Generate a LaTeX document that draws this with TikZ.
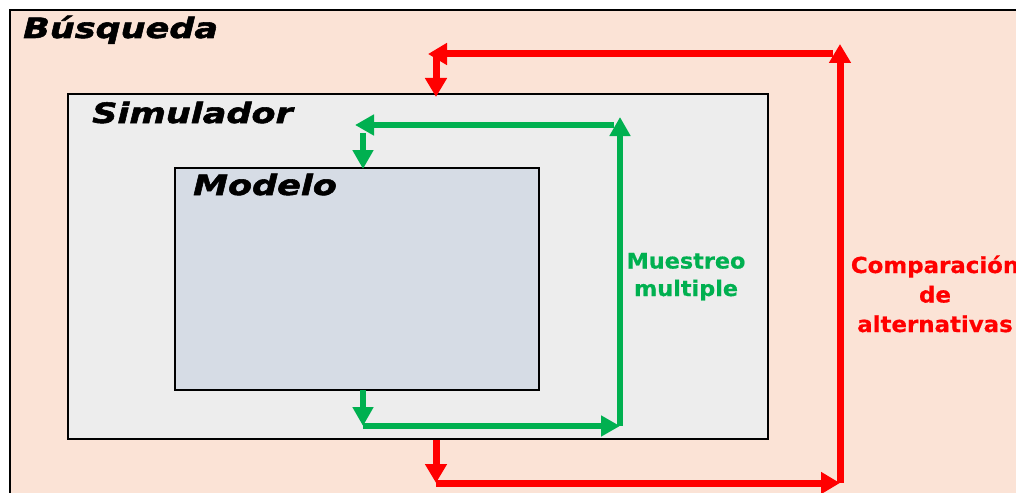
\documentclass[tikz,border=0pt]{standalone}
\usepackage{fontspec}
\setmainfont{DejaVu Sans}
\newfontfamily\titlefont{DejaVu Sans}[FakeStretch=1.25,FakeBold=2]
\newfontfamily\labelfont{DejaVu Sans}[FakeStretch=1.04,FakeBold=0.6]
\usetikzlibrary{arrows.meta}
\definecolor{peach}{HTML}{FBE3D6}
\definecolor{simfill}{HTML}{EDEDED}
\definecolor{modfill}{HTML}{D6DCE5}
\definecolor{ared}{HTML}{FF0000}
\definecolor{agreen}{HTML}{00B050}
\begin{document}
\begin{tikzpicture}[x=1pt,y=-1pt,
  box/.style={draw=black,line width=2pt},
  title/.style={anchor=base west,inner sep=0pt,font=\titlefont\fontsize{28}{30}\selectfont\bfseries\itshape},
  garrow/.style={draw=agreen,line width=6pt,-{Triangle[length=19pt,width=20pt]}},
  rarrow/.style={draw=ared,line width=7pt,-{Triangle[length=19pt,width=21pt]}},
  glabel/.style={anchor=base,align=center,inner sep=0pt,text=agreen,font=\labelfont\fontsize{21.5}{27.5}\selectfont\bfseries},
  rlabel/.style={anchor=base,align=center,inner sep=0pt,text=ared,font=\labelfont\fontsize{22}{29.5}\selectfont\bfseries}]
\useasboundingbox (0,0) rectangle (1016,492);
\fill[white] (0,0) rectangle (1016,492);
\begin{scope}
\clip (0,0) rectangle (1016,492);
% nested boxes
\draw[box,fill=peach] (10,10) rectangle (1040,510);
\end{scope}
\draw[box,fill=simfill] (68,94) rectangle (768,439);
\draw[box,fill=modfill] (175,168) rectangle (539,390);
\node[title] (busq) at (23,38) {Búsqueda};
\node[title] (sim) at (92,123) {Simulador};
\node[title] (mod) at (193,195) {Modelo};
% green sampling loop
\coordinate (g1) at (363,390);
\coordinate (g2) at (363,426);
\coordinate (g3) at (620,426);
\coordinate (g4) at (620,117);
\coordinate (g5) at (614,125);
\coordinate (g6) at (355,125);
\coordinate (g7) at (363,133);
\coordinate (g8) at (363,169);
\draw[garrow] (g1) -- (g2);
\draw[garrow] (g2) -- (g3);
\draw[garrow] (g3) -- (g4);
\draw[garrow] (g5) -- (g6);
\draw[garrow] (g7) -- (g8);
% red comparison loop
\coordinate (r1) at (436,440);
\coordinate (r2) at (436,483);
\coordinate (r3) at (840,483);
\coordinate (r4) at (840,44);
\coordinate (r5) at (833,54);
\coordinate (r6) at (428,54);
\coordinate (r7) at (436,57);
\coordinate (r8) at (436,97);
\draw[rarrow] (r1) -- (r2);
\draw[rarrow] (r2) -- (r3);
\draw[rarrow] (r3) -- (r4);
\draw[rarrow] (r5) -- (r6);
\draw[rarrow] (r7) -- (r8);
% labels, anchored at the baseline of their last line
\node[glabel] (muestreo) at (686,296) {Muestreo\\multiple};
\node[rlabel] (comp) at (935,332) {Comparación\\de\\alternativas};
\end{tikzpicture}
\end{document}
